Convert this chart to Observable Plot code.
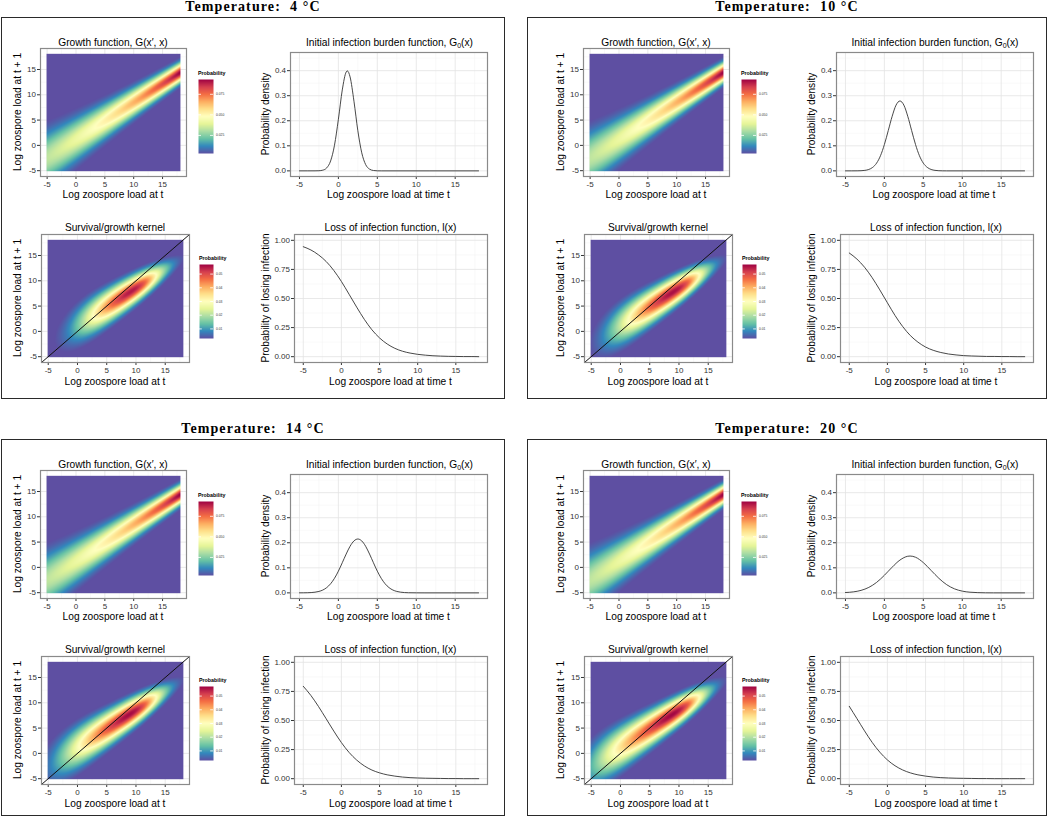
<!DOCTYPE html>
<html><head><meta charset="utf-8">
<script src="https://cdn.jsdelivr.net/npm/d3@7"></script>
<script src="https://cdn.jsdelivr.net/npm/@observablehq/plot@0.6"></script>
<style>
html,body{margin:0;padding:0;background:#fff;}
#root{position:relative;width:1050px;height:821px;overflow:hidden;font-family:"Liberation Sans",Arial,sans-serif;}
.box{position:absolute;border:1.4px solid #2a2a2a;box-sizing:border-box;}
.t{position:absolute;white-space:nowrap;transform:translate(-50%,-50%);color:#000;font-size:10.2px;line-height:1;}
.yl{transform:translate(-50%,-50%) rotate(-90deg);}
.temp{font-family:"Liberation Serif",serif;font-weight:bold;font-size:14px;letter-spacing:1.1px;}
.lg{position:absolute;font-size:5.3px;font-weight:bold;white-space:nowrap;line-height:1;color:#000;}
#root svg{position:absolute;overflow:visible;}
</style></head><body><div id="root"></div>
<script>
// ---------------- data ----------------
const temps = [4, 10, 14, 20];
const axisTicks = [-5, 0, 5, 10, 15];
const minorTicks = [-2.5, 2.5, 7.5, 12.5, 17.5];
const gbTicks = [0, 0.1, 0.2, 0.3, 0.4];
const gbMinor = [0.05, 0.15, 0.25, 0.35, 0.45];
const lossTicks = [0, 0.25, 0.5, 0.75, 1];
const lossMinor = [0.125, 0.375, 0.625, 0.875];
const growthLegendTicks = [0.025, 0.05, 0.075];
const kernelLegendTicks = [0.01, 0.02, 0.03, 0.04, 0.05];

// initial infection burden G0(x)
const gbX4 = [-5, -3, -2.5, -2, -1.5, -1, -0.5, 0, 0.5, 1, 1.15, 1.5, 2, 2.5, 3, 3.5, 4, 4.5, 5, 5.5, 18];
const gbY4 = [0, 0.0001, 0.0005, 0.0028, 0.0119, 0.0395, 0.1023, 0.2059, 0.323, 0.3945, 0.399, 0.3752, 0.278, 0.160, 0.0721, 0.0252, 0.0069, 0.0015, 0.0002, 0, 0];
const gbX10 = [-5, -3.5, -3, -2.5, -2, -1.5, -1, -0.5, 0, 0.5, 1, 1.5, 2, 2.5, 3, 3.5, 4, 4.5, 5, 5.5, 6, 6.5, 7, 7.5, 8, 18];
const gbY10 = [0, 0.0002, 0.0006, 0.0020, 0.0056, 0.0140, 0.0309, 0.0605, 0.105, 0.161, 0.218, 0.2625, 0.279, 0.2625, 0.218, 0.161, 0.105, 0.0605, 0.0309, 0.0140, 0.0056, 0.0020, 0.0006, 0.0001, 0, 0];
const gbX14 = [-5, -4, -3, -2.5, -2, -1.5, -1, -0.5, 0, 0.5, 1, 1.5, 2, 2.5, 3, 3.5, 4, 4.5, 5, 5.5, 6, 6.5, 7, 7.5, 8, 9, 10, 11, 18];
const gbY14 = [0.0001, 0.0005, 0.0027, 0.0057, 0.0113, 0.0210, 0.0363, 0.0582, 0.0867, 0.1203, 0.155, 0.186, 0.2073, 0.215, 0.2073, 0.186, 0.155, 0.1203, 0.0867, 0.0582, 0.0363, 0.0210, 0.0113, 0.0057, 0.0027, 0.0005, 0.0001, 0, 0];
const gbX20 = [-5, -4, -3, -2, -1, 0, 1, 2, 3, 3.3, 4, 5, 6, 7, 8, 9, 10, 11, 12, 13, 14, 18];
const gbY20 = [0.0014, 0.0039, 0.0099, 0.0218, 0.0418, 0.0701, 0.1026, 0.131, 0.1461, 0.147, 0.1422, 0.1208, 0.0896, 0.058, 0.0327, 0.0161, 0.0069, 0.0026, 0.0009, 0.0002, 0, 0];

// loss of infection l(x)
const lossX = [-5, -4, -3, -2, -1, 0, 1, 2, 3, 4, 5, 6, 7, 8, 9, 10, 11, 12, 13, 14, 15, 16, 17, 18];
const loss4  = [0.945, 0.917, 0.875, 0.818, 0.741, 0.646, 0.537, 0.426, 0.321, 0.231, 0.161, 0.109, 0.072, 0.047, 0.031, 0.020, 0.013, 0.008, 0.005, 0.003, 0.002, 0.001, 0.001, 0.000];
const loss10 = [0.891, 0.839, 0.769, 0.679, 0.574, 0.463, 0.354, 0.259, 0.182, 0.125, 0.083, 0.055, 0.036, 0.023, 0.015, 0.009, 0.006, 0.004, 0.002, 0.002, 0.001, 0.001, 0.000, 0.000];
const loss14 = [0.794, 0.715, 0.620, 0.515, 0.409, 0.310, 0.226, 0.160, 0.110, 0.074, 0.050, 0.033, 0.022, 0.014, 0.009, 0.006, 0.004, 0.003, 0.002, 0.001, 0.001, 0.000, 0.000, 0.000];
const loss20 = [0.622, 0.517, 0.411, 0.312, 0.228, 0.161, 0.111, 0.075, 0.050, 0.033, 0.022, 0.014, 0.009, 0.006, 0.004, 0.003, 0.002, 0.001, 0.001, 0.000, 0.000, 0.000, 0.000, 0.000];

// growth function G(x', x): ridge and spread
const growthIntercept = [1.2, 1.2, 1.2, 1.2];
const growthSlope = [0.73, 0.73, 0.73, 0.73];
const growthSdAt18 = [1.2, 1.2, 1.2, 1.2];
const growthSdRate = [0.045, 0.045, 0.045, 0.045];
const growthBin = [0.28, 0.28, 0.28, 0.28];
// survival s(x) used in the survival/growth kernel
const survMid = [12.8, 12.8, 12.8, 12.8];
const survRate = [0.62, 0.62, 0.62, 0.62];
// colour ranges of the two heatmap legends
const growthRange = [0.003, 0.093];
const kernelRange = [0.003, 0.057];
const spectral = ["#5E4FA2", "#3288BD", "#66C2A5", "#ABDDA4", "#E6F598", "#FFFFBF", "#FEE08B", "#FDAE61", "#F46D43", "#D53E4F", "#9E0142"];

const gbSeries = [[gbX4, gbY4], [gbX10, gbY10], [gbX14, gbY14], [gbX20, gbY20]];
const lossSeries = [loss4, loss10, loss14, loss20];

// ---------------- layout ----------------
const root = document.getElementById("root");
const heatDomain = [-6.15, 19.15];
const fmtInt = d => (d < 0 ? "-" + Math.abs(d) : String(d));
const boxes = [
  {l: 1, t: 17, w: 504, h: 382, hx: 0, lx: 0, dy: 0},
  {l: 527, t: 17, w: 520, h: 382, hx: 543, lx: 545.5, dy: 0},
  {l: 1, t: 439, w: 504, h: 377, hx: 0, lx: 0, dy: 422},
  {l: 527, t: 439, w: 520, h: 377, hx: 543, lx: 545.5, dy: 422}
];
const P = {
  growth: {l: 40, t: 48, w: 146, h: 128},
  gb: {l: 290, t: 52, w: 197, h: 124},
  kernel: {l: 41, t: 234, w: 148, h: 128},
  loss: {l: 294, t: 234, w: 193, h: 128},
  growthBar: {l: 198, t: 79, w: 15, h: 74},
  kernelBar: {l: 199, t: 264, w: 14, h: 74}
};

function txt(html, cx, cy, cls) {
  const d = document.createElement("div");
  d.className = "t " + (cls || "");
  d.innerHTML = html;
  d.style.left = cx + "px"; d.style.top = cy + "px";
  root.appendChild(d);
  return d;
}
function put(svg, left, top) {
  svg.style.left = left + "px"; svg.style.top = top + "px";
  root.appendChild(svg);
}
const spectralRamp = d3.piecewise(d3.interpolateRgb, spectral);
const clampedRamp = t => spectralRamp(Math.max(0, Math.min(1, t)));
const colorOpts = range => ({type: "linear", domain: range, clamp: true, interpolate: clampedRamp});
const mL = 30, mT = 2, mR = 2, mB = 16;
const baseStyle = {fontSize: "8px", fontFamily: "Liberation Sans, Arial, sans-serif", color: "#333", background: "transparent"};

function gridMarks(xMajor, xMinor, yMajor, yMinor) {
  return [
    Plot.ruleX(xMinor, {stroke: "#f3f3f3", strokeWidth: 0.5}),
    Plot.ruleY(yMinor, {stroke: "#f3f3f3", strokeWidth: 0.5}),
    Plot.ruleX(xMajor, {stroke: "#e3e3e3", strokeWidth: 0.8}),
    Plot.ruleY(yMajor, {stroke: "#e3e3e3", strokeWidth: 0.8})
  ];
}

function heatPlot(panel, fill, range, diag) {
  return Plot.plot({
    width: panel.w + mL + mR, height: panel.h + mT + mB,
    marginLeft: mL, marginTop: mT, marginRight: mR, marginBottom: mB,
    style: baseStyle,
    x: {domain: heatDomain, ticks: axisTicks, tickSize: 3, tickPadding: 1.5, tickFormat: fmtInt, label: null},
    y: {domain: heatDomain, ticks: axisTicks, tickSize: 3, tickPadding: 1.5, tickFormat: fmtInt, label: null},
    color: colorOpts(range),
    marks: [
      ...gridMarks(axisTicks, minorTicks, axisTicks, minorTicks),
      Plot.raster({x1: -5.1, x2: 18.1, y1: -5.1, y2: 18.1, fill, pixelSize: 1}),
      diag ? Plot.line(heatDomain.map(v => ({x: v, y: v})), {x: "x", y: "y", stroke: "#111", strokeWidth: 1, clip: true}) : null,
      Plot.frame({stroke: "#8a8a8a", strokeWidth: 1.2})
    ]
  });
}

function linePlot(panel, data, yDomain, yTicks, yMinor, yFmt) {
  return Plot.plot({
    width: panel.w + mL + mR, height: panel.h + mT + mB,
    marginLeft: mL, marginTop: mT, marginRight: mR, marginBottom: mB,
    style: baseStyle,
    x: {domain: heatDomain, ticks: axisTicks, tickSize: 3, tickPadding: 1.5, tickFormat: fmtInt, label: null},
    y: {domain: yDomain, ticks: yTicks, tickSize: 3, tickPadding: 1.5, tickFormat: yFmt, label: null},
    marks: [
      ...gridMarks(axisTicks, minorTicks, yTicks, yMinor),
      Plot.line(data, {x: "x", y: "y", curve: "monotone-x", stroke: "#333", strokeWidth: 0.9}),
      Plot.frame({stroke: "#8a8a8a", strokeWidth: 1.2})
    ]
  });
}

function colorBar(bar, range, ticks, fmt) {
  const mRight = 22;
  return Plot.plot({
    width: bar.w + mRight, height: bar.h,
    marginLeft: 0, marginRight: mRight, marginTop: 0, marginBottom: 0,
    style: {fontSize: "3.3px", fontFamily: "Liberation Sans, Arial, sans-serif", color: "#333", background: "transparent"},
    x: {domain: [0, 1], axis: null},
    y: {domain: range, axis: "right", ticks, tickSize: 0, tickPadding: 2.5, tickFormat: fmt, label: null},
    color: colorOpts(range),
    marks: [
      Plot.raster({x1: 0, x2: 1, y1: range[0], y2: range[1], fill: (x, y) => y, pixelSize: 1}),
      Plot.ruleY(ticks, {x1: 0, x2: 0.2, stroke: "white", strokeWidth: 0.8}),
      Plot.ruleY(ticks, {x1: 0.8, x2: 1, stroke: "white", strokeWidth: 0.8})
    ]
  });
}

function growthProb(i, x, xp) {
  const mu = growthIntercept[i] + growthSlope[i] * x;
  const sd = growthSdAt18[i] * Math.exp(growthSdRate[i] * (18 - x));
  const z = (xp - mu) / sd;
  return growthBin[i] * Math.exp(-0.5 * z * z) / (sd * Math.sqrt(2 * Math.PI));
}
function lossAt(i, x) {
  const ys = lossSeries[i];
  const k = Math.max(0, Math.min(lossX.length - 2, Math.floor(x - lossX[0])));
  const f = Math.max(0, Math.min(1, (x - lossX[k]) / (lossX[k + 1] - lossX[k])));
  return ys[k] * (1 - f) + ys[k + 1] * f;
}
function survival(i, x) { return 1 / (1 + Math.exp(survRate[i] * (x - survMid[i]))); }

temps.forEach((temp, i) => {
  const B = boxes[i];
  const box = document.createElement("div");
  box.className = "box";
  Object.assign(box.style, {left: B.l + "px", top: B.t + "px", width: B.w + "px", height: B.h + "px"});
  root.appendChild(box);
  txt("Temperature:&nbsp; " + temp + " °C", B.l + B.w / 2, B.t - 10.5, "temp");

  const sh = (p, dx) => ({l: p.l + dx, t: p.t + B.dy, w: p.w, h: p.h});
  const g = sh(P.growth, B.hx), k = sh(P.kernel, B.hx), gb = sh(P.gb, B.lx), ls = sh(P.loss, B.lx);
  const gBar = sh(P.growthBar, B.hx), kBar = sh(P.kernelBar, B.hx);

  // Growth heatmap
  put(heatPlot(g, (x, y) => growthProb(i, x, y), growthRange, false), g.l - mL, g.t - mT);
  txt("Growth function, G(x′, x)", g.l + g.w / 2, g.t - 5);
  txt("Log zoospore load at t", g.l + g.w / 2, g.t + g.h + 19);
  txt("Log zoospore load at t + 1", g.l - 22, g.t + g.h / 2, "yl");
  put(colorBar(gBar, growthRange, growthLegendTicks, d3.format(".3f")), gBar.l, gBar.t);
  const lg1 = document.createElement("div"); lg1.className = "lg"; lg1.textContent = "Probability";
  lg1.style.left = gBar.l + "px"; lg1.style.top = (gBar.t - 8) + "px"; root.appendChild(lg1);

  // Kernel heatmap
  put(heatPlot(k, (x, y) => survival(i, x) * (1 - lossAt(i, x)) * growthProb(i, x, y), kernelRange, true), k.l - mL, k.t - mT);
  txt("Survival/growth kernel", k.l + k.w / 2, k.t - 6);
  txt("Log zoospore load at t", k.l + k.w / 2, k.t + k.h + 19.7);
  txt("Log zoospore load at t + 1", k.l - 23, k.t + k.h / 2, "yl");
  put(colorBar(kBar, kernelRange, kernelLegendTicks, d3.format(".2f")), kBar.l, kBar.t);
  const lg2 = document.createElement("div"); lg2.className = "lg"; lg2.textContent = "Probability";
  lg2.style.left = kBar.l + "px"; lg2.style.top = (kBar.t - 8) + "px"; root.appendChild(lg2);

  // Initial infection burden
  const [gx, gy] = gbSeries[i];
  const gbData = gx.map((x, j) => ({x, y: gy[j]}));
  put(linePlot(gb, gbData, [-0.0225, 0.4725], gbTicks, gbMinor, d3.format(".1f")), gb.l - mL, gb.t - mT);
  txt("Initial infection burden function, G<sub style='font-size:7px;vertical-align:-2px;line-height:0'>0</sub>(x)", gb.l + gb.w / 2 + 1, gb.t - 9);
  txt("Log zoospore load at time t", gb.l + gb.w / 2, gb.t + gb.h + 19);
  txt("Probability density", gb.l - 24, gb.t + gb.h / 2, "yl");

  // Loss of infection
  const lsData = lossX.map((x, j) => ({x, y: lossSeries[i][j]}));
  put(linePlot(ls, lsData, [-0.05, 1.05], lossTicks, lossMinor, d3.format(".2f")), ls.l - mL, ls.t - mT);
  txt("Loss of infection function, l(x)", ls.l + ls.w / 2, ls.t - 6);
  txt("Log zoospore load at time t", ls.l + ls.w / 2, ls.t + ls.h + 19.7);
  txt("Probability of losing infection", ls.l - 28, ls.t + ls.h / 2, "yl");
});
</script></body></html>
